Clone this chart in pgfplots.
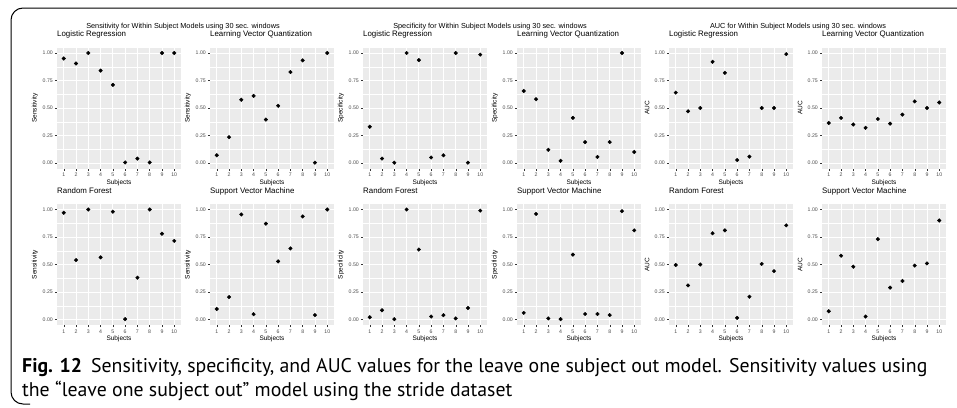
\documentclass[border=0pt]{standalone}
\usepackage{fontspec}
\setmainfont{Liberation Sans}
\newfontfamily\capfont{PT Sans}
\usepackage{pgfplots}
\pgfplotsset{compat=1.18}
\definecolor{bgc}{HTML}{EBEBEB}
\definecolor{grey20}{HTML}{333333}
\definecolor{grey30}{HTML}{4D4D4D}
\pgfplotsset{
 panel/.style={
  scale only axis, width=124pt, height=121pt, anchor=north west,
  xmin=0.45, xmax=10.55, ymin=-0.05, ymax=1.05,
  axis background/.style={fill=bgc},
  axis line style={draw=none},
  xtick={1,2,3,4,5,6,7,8,9,10},
  xticklabels={1,2,3,4,5,6,7,8,9,10},
  ytick={0,0.25,0.5,0.75,1},
  yticklabels={0.00,0.25,0.50,0.75,1.00},
  minor ytick={0.125,0.375,0.625,0.875},
  grid=both,
  major grid style={white, line width=0.9pt},
  minor grid style={white, line width=0.45pt},
  tick pos=left, tick align=outside,
  major tick style={grey20, line width=0.4pt},
  major tick length=2pt, minor tick length=0pt,
  ticklabel style={font=\fontsize{5.2}{5.2}\selectfont, text=grey30, inner sep=0pt},
  xticklabel style={yshift=-2.5pt},
  yticklabel style={xshift=-2pt},
  title style={at={(axis description cs:0,1)}, anchor=base west, yshift=5pt, inner sep=0pt, font=\fontsize{7.9}{7.9}\selectfont},
  xlabel={Subjects},
  xlabel style={at={(axis description cs:0.5,-0.1157)}, anchor=center, inner sep=0pt, font=\fontsize{6.5}{6.5}\selectfont},
  ylabel style={at={(axis description cs:-0.1774,0.5)}, anchor=center, inner sep=0pt, font=\fontsize{6.5}{6.5}\selectfont},
  clip=false,
 }
}
\newcommand{\panel}[5]{%
\begin{axis}[panel, at={(#1pt,-#2pt)}, title={#3}, ylabel={#4}]
\addplot[only marks, mark=*, mark size=1.8pt, black] coordinates {#5};
\end{axis}}
\begin{document}
\begin{tikzpicture}
\path[use as bounding box] (0pt,0pt) rectangle (957pt,-407pt);
\draw[line width=1pt, rounded corners=12pt] (975pt,-8pt) -- (11pt,-8pt) -- (11pt,-404pt) -- (30pt,-404pt);
% Sensitivity
\node[font=\fontsize{7.3}{7.3}\selectfont] at (183pt,-27pt) {Sensitivity for Within Subject Models using 30 sec. windows};
\panel{57}{47.5}{Logistic Regression}{Sensitivity}{(1,0.95)(2,0.905)(3,1.0)(4,0.84)(5,0.71)(6,0.005)(7,0.04)(8,0.005)(9,1.0)(10,1.0)}
\panel{210}{47.5}{Learning Vector Quantization}{Sensitivity}{(1,0.07)(2,0.235)(3,0.575)(4,0.61)(5,0.395)(6,0.52)(7,0.827)(8,0.933)(9,0.003)(10,1.0)}
\panel{57}{204}{Random Forest}{Sensitivity}{(1,0.97)(2,0.54)(3,1.0)(4,0.565)(5,0.98)(6,0.003)(7,0.38)(8,1.0)(9,0.78)(10,0.715)}
\panel{210}{204}{Support Vector Machine}{Sensitivity}{(1,0.096)(2,0.204)(3,0.955)(4,0.048)(5,0.871)(6,0.528)(7,0.646)(8,0.937)(9,0.04)(10,1.0)}
% Specificity
\node[font=\fontsize{7.3}{7.3}\selectfont] at (490pt,-27pt) {Specificity for Within Subject Models using 30 sec. windows};
\panel{363}{47.5}{Logistic Regression}{Specificity}{(1,0.33)(2,0.04)(3,0.003)(4,1.0)(5,0.935)(6,0.05)(7,0.07)(8,1.0)(9,0.003)(10,0.985)}
\panel{517}{47.5}{Learning Vector Quantization}{Specificity}{(1,0.655)(2,0.58)(3,0.12)(4,0.02)(5,0.41)(6,0.19)(7,0.055)(8,0.19)(9,1.0)(10,0.10)}
\panel{363}{204}{Random Forest}{Specificity}{(1,0.02)(2,0.084)(3,0.003)(4,1.0)(5,0.636)(6,0.027)(7,0.039)(8,0.01)(9,0.105)(10,0.99)}
\panel{517}{204}{Support Vector Machine}{Specificity}{(1,0.06)(2,0.96)(3,0.01)(4,0.003)(5,0.59)(6,0.05)(7,0.05)(8,0.04)(9,0.985)(10,0.81)}
% AUC
\node[font=\fontsize{7.3}{7.3}\selectfont] at (798pt,-27pt) {AUC for Within Subject Models using 30 sec. windows};
\panel{669}{47.5}{Logistic Regression}{AUC}{(1,0.64)(2,0.47)(3,0.5)(4,0.92)(5,0.82)(6,0.027)(7,0.058)(8,0.5)(9,0.5)(10,0.99)}
\panel{822}{47.5}{Learning Vector Quantization}{AUC}{(1,0.364)(2,0.41)(3,0.35)(4,0.32)(5,0.40)(6,0.358)(7,0.44)(8,0.56)(9,0.5)(10,0.55)}
\panel{669}{204}{Random Forest}{AUC}{(1,0.495)(2,0.31)(3,0.5)(4,0.784)(5,0.81)(6,0.015)(7,0.207)(8,0.505)(9,0.44)(10,0.856)}
\panel{822}{204}{Support Vector Machine}{AUC}{(1,0.075)(2,0.58)(3,0.48)(4,0.027)(5,0.73)(6,0.29)(7,0.35)(8,0.49)(9,0.51)(10,0.90)}
% caption
\node[anchor=base west, inner sep=0pt] at (22pt,-372pt) {\capfont\fontsize{19.8}{19.8}\selectfont\textbf{Fig. 12}\hspace{0.45em}Sensitivity, specificity, and AUC values for the leave one subject out model. Sensitivity values using};
\node[anchor=base west, inner sep=0pt] at (22pt,-396pt) {\capfont\fontsize{19.8}{19.8}\selectfont the “leave one subject out” model using the stride dataset};
\end{tikzpicture}
\end{document}
